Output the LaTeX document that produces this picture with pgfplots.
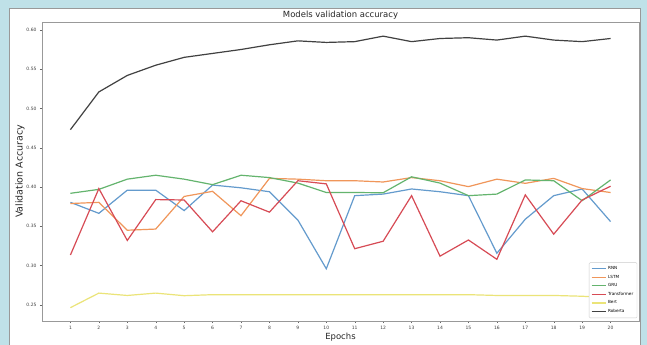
\documentclass[border=0pt]{standalone}
\usepackage{fontspec}
\setmainfont{DejaVu Sans}
\usepackage{pgfplots}
\pgfplotsset{compat=1.18}
\definecolor{bgblue}{RGB}{191,225,232}
\definecolor{cRNN}{RGB}{100,155,205}
\definecolor{cLSTM}{RGB}{240,150,90}
\definecolor{cGRU}{RGB}{100,180,110}
\definecolor{cTrans}{RGB}{215,75,85}
\definecolor{cBert}{RGB}{235,228,120}
\definecolor{cRob}{RGB}{65,65,65}
\begin{document}
\begin{tikzpicture}
\path[use as bounding box] (0,0) rectangle (647bp,345bp);
\fill[bgblue] (0,0) rectangle (647bp,345bp);
\fill[white] (9bp,0) rectangle (640bp,337bp);
\draw[gray!80,line width=0.8bp] (9bp,0) -- (9bp,337bp) -- (640bp,337bp) -- (640bp,0);
\begin{axis}[
  at={(42bp,24bp)}, anchor=south west, scale only axis,
  width=597bp, height=299bp,
  xmin=0, xmax=21, ymin=0.2295, ymax=0.610,
  xtick={1,2,...,20},
  ytick={0.25,0.30,0.35,0.40,0.45,0.50,0.55,0.60},
  yticklabel style={/pgf/number format/.cd, fixed, fixed zerofill, precision=2},
  /pgf/number format/assume math mode=true,
  tick label style={font=\fontsize{4.5}{5}\selectfont, text=black!75},
  tick align=outside, tick pos=left,
  major tick length=2bp,
  tick style={black!60, line width=0.4bp},
  axis line style={gray!80, line width=0.7bp},
  every axis title shift=0pt,
  title={Models validation accuracy},
  title style={font=\fontsize{8.5}{9}\selectfont, text=black!85, at={(axis description cs:0.5,1)}, anchor=south, yshift=0.5bp, inner sep=2bp},
  xlabel={Epochs},
  xlabel style={font=\fontsize{8.5}{9}\selectfont, text=black!85, at={(axis description cs:0.5,-0.0535)}, anchor=center},
  ylabel={Validation Accuracy},
  ylabel style={font=\fontsize{9.5}{10}\selectfont, text=black!85, at={(axis description cs:-0.037,0.5)}, anchor=center, rotate=0},
  legend style={at={(axis description cs:0.997,0.01)}, anchor=south east,
    font=\fontsize{4.2}{4.5}\selectfont, draw=gray!40, rounded corners=1bp,
    fill=white, row sep=0bp, inner sep=1.8bp},
  legend cell align=left,
  legend image code/.code={\draw[#1] (0bp,0bp) -- (14bp,0bp);},
  every axis plot/.append style={line width=1.2bp},
]
\addplot[cRNN] coordinates {(1,0.3805)(2,0.3665)(3,0.396)(4,0.396)(5,0.370)(6,0.4025)(7,0.399)(8,0.394)(9,0.358)(10,0.296)(11,0.389)(12,0.391)(13,0.3975)(14,0.394)(15,0.389)(16,0.3157)(17,0.359)(18,0.389)(19,0.3975)(20,0.356)};
\addlegendentry{RNN}
\addplot[cLSTM] coordinates {(1,0.379)(2,0.3805)(3,0.345)(4,0.3465)(5,0.388)(6,0.3945)(7,0.3635)(8,0.411)(9,0.410)(10,0.408)(11,0.408)(12,0.4064)(13,0.412)(14,0.408)(15,0.4005)(16,0.410)(17,0.4047)(18,0.411)(19,0.398)(20,0.393)};
\addlegendentry{LSTM}
\addplot[cGRU] coordinates {(1,0.392)(2,0.397)(3,0.410)(4,0.415)(5,0.410)(6,0.403)(7,0.415)(8,0.412)(9,0.405)(10,0.393)(11,0.393)(12,0.3927)(13,0.413)(14,0.405)(15,0.389)(16,0.391)(17,0.409)(18,0.408)(19,0.3826)(20,0.409)};
\addlegendentry{GRU}
\addplot[cTrans] coordinates {(1,0.3135)(2,0.398)(3,0.332)(4,0.384)(5,0.3835)(6,0.343)(7,0.3825)(8,0.368)(9,0.408)(10,0.404)(11,0.3215)(12,0.331)(13,0.389)(14,0.312)(15,0.3326)(16,0.308)(17,0.390)(18,0.340)(19,0.3835)(20,0.401)};
\addlegendentry{Transformer}
\addplot[cBert] coordinates {(1,0.2465)(2,0.265)(3,0.262)(4,0.265)(5,0.2617)(6,0.263)(7,0.263)(8,0.263)(9,0.263)(10,0.263)(11,0.263)(12,0.263)(13,0.263)(14,0.263)(15,0.263)(16,0.262)(17,0.262)(18,0.262)(19,0.261)(20,0.259)};
\addlegendentry{Bert}
\addplot[cRob] coordinates {(1,0.473)(2,0.521)(3,0.542)(4,0.555)(5,0.565)(6,0.570)(7,0.575)(8,0.581)(9,0.586)(10,0.584)(11,0.585)(12,0.592)(13,0.585)(14,0.589)(15,0.590)(16,0.587)(17,0.592)(18,0.587)(19,0.585)(20,0.589)};
\addlegendentry{Roberta}
\end{axis}
\end{tikzpicture}
\end{document}
